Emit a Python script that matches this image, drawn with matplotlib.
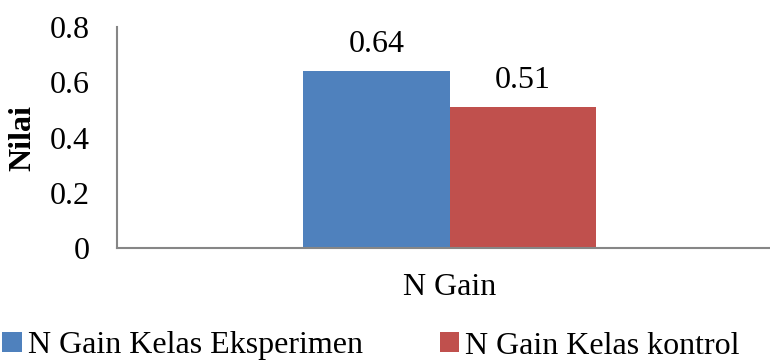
#!/usr/bin/env python3
"""N Gain comparison bar chart."""

import matplotlib
matplotlib.use("Agg")
import matplotlib.pyplot as plt

categories = ["N Gain"]
series_names = ["N Gain Kelas Eksperimen", "N Gain Kelas kontrol"]
eksperimen = [0.64]
kontrol = [0.51]
y_ticks = [0, 0.2, 0.4, 0.6, 0.8]
y_tick_labels = ["0", "0.2", "0.4", "0.6", "0.8"]

COLORS = ["#4F81BD", "#C0504D"]
AXIS_GRAY = "#868686"
FS = 23

plt.rcParams["font.family"] = ["Liberation Serif", "DejaVu Serif"]
plt.rcParams["font.size"] = FS

fig = plt.figure(figsize=(7.7, 3.61), dpi=100)
fig.patch.set_facecolor("white")
ax = fig.add_axes([0.152, 0.313, 0.8636, 0.612])

w = 0.22
x = list(range(len(categories)))
b1 = ax.bar([i - w / 2 for i in x], eksperimen, w, color=COLORS[0], label=series_names[0])
b2 = ax.bar([i + w / 2 for i in x], kontrol, w, color=COLORS[1], label=series_names[1])
ax.bar_label(b1, labels=[f"{v:.2f}" for v in eksperimen], padding=9, fontsize=FS)
ax.bar_label(b2, labels=[f"{v:.2f}" for v in kontrol], padding=9, fontsize=FS)

ax.set_xlim(-0.5, 0.5)
ax.set_ylim(0, 0.8)
ax.set_yticks(y_ticks)
ax.set_yticklabels(y_tick_labels)
ax.set_xticks(x)
ax.set_xticklabels(categories)
ax.tick_params(axis="y", length=0, pad=20, labelsize=FS)
ax.tick_params(axis="x", length=0, pad=18, labelsize=FS)

for s in ("top", "right"):
    ax.spines[s].set_visible(False)
for s in ("left", "bottom"):
    ax.spines[s].set_color(AXIS_GRAY)
    ax.spines[s].set_linewidth(1.5)

ax.set_ylabel("Nilai", fontweight="bold", fontsize=FS)
ax.yaxis.set_label_coords(-0.12, 0.5)

fig.legend(
    handles=[b1, b2], loc="center", bbox_to_anchor=(371 / 770, 1 - 346 / 361),
    ncol=2, frameon=False, fontsize=FS,
    handlelength=0.6, handleheight=0.6, handletextpad=0.2, columnspacing=2.4,
)

fig.savefig("out.png", dpi=100)
